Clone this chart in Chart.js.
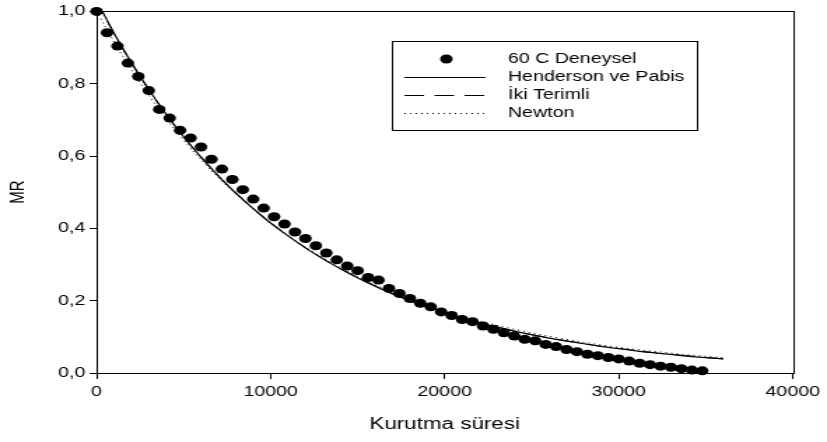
<!DOCTYPE html>
<html>
<head>
<meta charset="utf-8">
<script src="https://cdn.jsdelivr.net/npm/chart.js@4.4.1/dist/chart.umd.min.js"></script>
<style>
  html, body { margin: 0; padding: 0; background: #fff; }
</style>
</head>
<body>
<canvas id="c" width="591" height="442" style="display:block;width:827px;height:442px"></canvas>
<script>
// ---- data ----
const timeS = [0, 600, 1200, 1800, 2400, 3000, 3600, 4200, 4800, 5400, 6000, 6600, 7200, 7800, 8400, 9000,
  9600, 10200, 10800, 11400, 12000, 12600, 13200, 13800, 14400, 15000, 15600, 16200, 16800, 17400, 18000,
  18600, 19200, 19800, 20400, 21000, 21600, 22200, 22800, 23400, 24000, 24600, 25200, 25800, 26400, 27000,
  27600, 28200, 28800, 29400, 30000, 30600, 31200, 31800, 32400, 33000, 33600, 34200, 34800];
const mrExperimental = [1.000, 0.941, 0.904, 0.857, 0.820, 0.781, 0.729, 0.705, 0.671, 0.650, 0.625, 0.591,
  0.564, 0.535, 0.507, 0.481, 0.456, 0.432, 0.412, 0.390, 0.372, 0.352, 0.332, 0.313, 0.296, 0.283, 0.264,
  0.257, 0.234, 0.220, 0.206, 0.193, 0.183, 0.169, 0.159, 0.148, 0.142, 0.130, 0.121, 0.111, 0.102, 0.093,
  0.089, 0.079, 0.073, 0.065, 0.059, 0.052, 0.048, 0.043, 0.039, 0.033, 0.027, 0.023, 0.019, 0.016, 0.012,
  0.008, 0.006];
const modelTime = [0, 1200, 2400, 3600, 4800, 6000, 7200, 8400, 9600, 10800, 12000, 13200, 14400, 15600,
  16800, 18000, 19200, 20400, 21600, 22800, 24000, 25200, 26400, 27600, 28800, 30000, 31200, 32400, 33600,
  34800, 36000];
const mrHenderson = [1.030, 0.923, 0.828, 0.742, 0.665, 0.597, 0.535, 0.480, 0.430, 0.386, 0.346, 0.310,
  0.278, 0.249, 0.223, 0.200, 0.180, 0.161, 0.144, 0.129, 0.116, 0.104, 0.093, 0.084, 0.075, 0.067, 0.060,
  0.054, 0.048, 0.043, 0.039];
const mrIkiTerimli = [1.028, 0.922, 0.827, 0.742, 0.665, 0.597, 0.535, 0.480, 0.431, 0.386, 0.346, 0.311,
  0.279, 0.250, 0.224, 0.201, 0.180, 0.161, 0.145, 0.130, 0.116, 0.104, 0.094, 0.084, 0.075, 0.068, 0.061,
  0.054, 0.049, 0.044, 0.039];
const mrNewton = [1.000, 0.900, 0.810, 0.728, 0.656, 0.590, 0.531, 0.478, 0.430, 0.387, 0.348, 0.313,
  0.282, 0.253, 0.228, 0.205, 0.185, 0.166, 0.149, 0.134, 0.121, 0.109, 0.098, 0.088, 0.079, 0.071, 0.064,
  0.058, 0.052, 0.047, 0.042];
const seriesLabels = ['60 C Deneysel', 'Henderson ve Pabis', 'İki Terimli', 'Newton'];
const xTickValues = [0, 10000, 20000, 30000, 40000];
const xTickLabels = ['0', '10000', '20000', '30000', '40000'];
const yTickValues = [0, 0.2, 0.4, 0.6, 0.8, 1.0];
const yTickLabels = ['0,0', '0,2', '0,4', '0,6', '0,8', '1,0'];
const xTitle = 'Kurutma süresi';
const yTitle = 'MR';

// ---- build ----
const pts = (xs, ys) => xs.map((x, i) => ({x: x, y: ys[i]}));
const FONT = 'Liberation Sans, Arial, sans-serif';

function tickText(values, labels) {
  return function (v) {
    for (let i = 0; i < values.length; i++) {
      if (Math.abs(values[i] - v) < 1e-9) return labels[i];
    }
    return '';
  };
}

const frameAndLegend = {
  id: 'frameAndLegend',
  beforeDatasetsDraw(chart) {
    const {ctx, chartArea: a} = chart;
    ctx.save();
    ctx.strokeStyle = '#000';
    ctx.lineWidth = 1;
    ctx.strokeRect(Math.round(a.left) + 0.5, Math.round(a.top) + 0.5,
      Math.round(a.right - a.left), Math.round(a.bottom - a.top));
    ctx.restore();
  },
  afterDatasetsDraw(chart) {
    const ctx = chart.ctx;
    const bx = 280, by = 41, bw = 218, bh = 89;
    ctx.save();
    ctx.fillStyle = '#fff';
    ctx.fillRect(bx, by, bw, bh);
    ctx.strokeStyle = '#000';
    ctx.lineWidth = 1;
    ctx.strokeRect(bx + 0.5, by + 0.5, bw, bh);
    ctx.font = '14px ' + FONT;
    ctx.textBaseline = 'middle';
    ctx.textAlign = 'left';
    chart.data.datasets.forEach((ds, i) => {
      const y = 59 + i * 18;
      if (ds.showLine === false) {
        ctx.fillStyle = '#000';
        ctx.beginPath();
        ctx.arc(319, y, ds.pointRadius, 0, Math.PI * 2);
        ctx.fill();
      } else {
        ctx.strokeStyle = '#000';
        ctx.lineWidth = ds.borderWidth;
        ctx.setLineDash(ds.borderDash || []);
        ctx.beginPath();
        ctx.moveTo(289, y + 0.5);
        ctx.lineTo(347, y + 0.5);
        ctx.stroke();
        ctx.setLineDash([]);
      }
      ctx.fillStyle = '#000';
      ctx.fillText(ds.label, 363, y);
    });
    ctx.restore();
  }
};

new Chart(document.getElementById('c'), {
  type: 'scatter',
  data: {
    datasets: [
      {
        label: seriesLabels[0], data: pts(timeS, mrExperimental), showLine: false,
        pointRadius: 4.5, pointHoverRadius: 4.5, backgroundColor: '#000', borderColor: '#000', borderWidth: 0,
        clip: false, order: 0
      },
      {
        label: seriesLabels[1], data: pts(modelTime, mrHenderson), showLine: true,
        pointRadius: 0, borderColor: '#000', borderWidth: 1.2, cubicInterpolationMode: 'monotone', order: 1
      },
      {
        label: seriesLabels[2], data: pts(modelTime, mrIkiTerimli), showLine: true,
        pointRadius: 0, borderColor: '#000', borderWidth: 1, borderDash: [14, 7.5],
        cubicInterpolationMode: 'monotone', order: 2
      },
      {
        label: seriesLabels[3], data: pts(modelTime, mrNewton), showLine: true,
        pointRadius: 0, borderColor: '#000', borderWidth: 1, borderDash: [1, 3],
        cubicInterpolationMode: 'monotone', order: 3
      }
    ]
  },
  options: {
    responsive: false,
    devicePixelRatio: 1,
    animation: false,
    layout: {padding: {left: 0, right: 20, top: 11, bottom: 0}},
    plugins: {legend: {display: false}, tooltip: {enabled: false}},
    scales: {
      x: {
        type: 'linear', min: 0, max: 40000,
        afterBuildTicks: (s) => { s.ticks = xTickValues.map(v => ({value: v})); },
        afterFit: (s) => { s.height = 69; },
        border: {display: false},
        grid: {drawOnChartArea: false, drawTicks: true, tickLength: 6, color: '#000', lineWidth: 1},
        ticks: {color: '#000', font: {family: FONT, size: 14}, padding: 5, maxRotation: 0,
          callback: tickText(xTickValues, xTickLabels)},
        title: {display: true, text: xTitle, color: '#000', font: {family: FONT, size: 16},
          padding: {top: 0, bottom: 8}}
      },
      y: {
        type: 'linear', min: 0, max: 1,
        afterBuildTicks: (s) => { s.ticks = yTickValues.map(v => ({value: v})); },
        afterFit: (s) => { s.width = 69; },
        border: {display: false},
        grid: {drawOnChartArea: false, drawTicks: true, tickLength: 5, color: '#000', lineWidth: 1},
        ticks: {color: '#000', font: {family: FONT, size: 14}, padding: 3,
          callback: tickText(yTickValues, yTickLabels)},
        title: {display: true, text: yTitle, color: '#000', font: {family: FONT, size: 15},
          padding: {top: 4, bottom: 0}}
      }
    }
  },
  plugins: [frameAndLegend]
});
</script>
</body>
</html>
